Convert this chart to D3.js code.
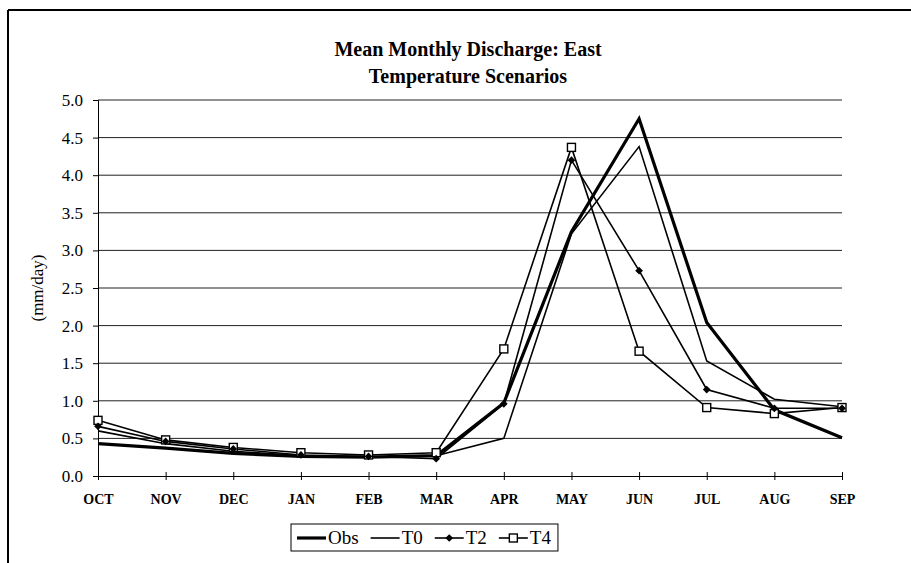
<!DOCTYPE html>
<html>
<head>
<meta charset="utf-8">
<script src="https://cdn.jsdelivr.net/npm/d3@7"></script>
<style>
  body { margin: 0; background: #fff; }
  text { font-family: "Liberation Serif", "Times New Roman", serif; fill: #000; }
</style>
</head>
<body>
<script>
// data
var months = ["OCT", "NOV", "DEC", "JAN", "FEB", "MAR", "APR", "MAY", "JUN", "JUL", "AUG", "SEP"];
var obs = [0.43, 0.37, 0.30, 0.26, 0.25, 0.27, 0.97, 3.25, 4.75, 2.04, 0.88, 0.51];
var t0  = [0.60, 0.43, 0.33, 0.27, 0.25, 0.27, 0.50, 3.22, 4.38, 1.53, 1.02, 0.92];
var t2  = [0.66, 0.46, 0.36, 0.28, 0.26, 0.23, 0.96, 4.20, 2.73, 1.15, 0.90, 0.90];
var t4  = [0.74, 0.48, 0.38, 0.31, 0.28, 0.31, 1.69, 4.37, 1.66, 0.91, 0.83, 0.91];
var yTicks = [0, 0.5, 1, 1.5, 2, 2.5, 3, 3.5, 4, 4.5, 5];
var seriesNames = ["Obs", "T0", "T2", "T4"];

var w = 911, h = 563;
var svg = d3.select("body").append("svg")
    .attr("width", w)
    .attr("height", h);

// outer frame (top + left only)
svg.append("line").attr("x1", 8).attr("x2", w).attr("y1", 10).attr("y2", 10)
    .attr("stroke", "#000").attr("stroke-width", 2);
svg.append("line").attr("x1", 8).attr("x2", 8).attr("y1", 10).attr("y2", h)
    .attr("stroke", "#000").attr("stroke-width", 2);

var x = d3.scalePoint().domain(months).range([98, 842]);
var y = d3.scaleLinear().domain([0, 5]).range([476, 100]);

// title
var title = svg.append("text")
    .attr("text-anchor", "middle")
    .style("font-size", "20px")
    .style("font-weight", "bold");
title.append("tspan").attr("x", 468).attr("y", 56).text("Mean Monthly Discharge: East");
title.append("tspan").attr("x", 468).attr("y", 83).text("Temperature Scenarios");

// gridlines
svg.append("g")
    .selectAll("line")
    .data(yTicks.filter(function (d) { return d > 0; }))
    .enter()
    .append("line")
    .attr("x1", 98).attr("x2", 842)
    .attr("y1", function (d) { return y(d); })
    .attr("y2", function (d) { return y(d); })
    .attr("stroke", "#222")
    .attr("stroke-width", 1);

// y axis
var yAxis = svg.append("g")
    .attr("transform", "translate(98,0)")
    .call(d3.axisLeft(y).tickValues(yTicks).tickFormat(d3.format(".1f")).tickSize(5).tickPadding(10));
yAxis.selectAll("text").style("font-size", "17px").style("font-family", "Liberation Serif, serif");
yAxis.selectAll("path, line").attr("stroke", "#000");

// x axis - ticks cross the line
var xAxis = svg.append("g")
    .attr("transform", "translate(0,476)")
    .call(d3.axisBottom(x).tickSizeInner(4).tickSizeOuter(0).tickPadding(14));
xAxis.selectAll(".tick line").attr("y1", -4).attr("y2", 4).attr("stroke", "#000");
xAxis.select(".domain").attr("stroke", "#000");
xAxis.selectAll("text")
    .style("font-size", "14px")
    .style("font-weight", "bold")
    .style("font-family", "Liberation Serif, serif");

// y label
svg.append("text")
    .attr("transform", "translate(43,288) rotate(-90)")
    .attr("text-anchor", "middle")
    .style("font-size", "17px")
    .text("(mm/day)");

var line = d3.line()
    .x(function (d, i) { return x(months[i]); })
    .y(function (d) { return y(d); });

var plot = svg.append("g");
plot.append("path").datum(t0).attr("d", line)
    .attr("fill", "none").attr("stroke", "#000").attr("stroke-width", 1.6);
plot.append("path").datum(t4).attr("d", line)
    .attr("fill", "none").attr("stroke", "#000").attr("stroke-width", 1.6);
plot.append("path").datum(t2).attr("d", line)
    .attr("fill", "none").attr("stroke", "#000").attr("stroke-width", 1.6);
plot.append("path").datum(obs).attr("d", line)
    .attr("fill", "none").attr("stroke", "#000").attr("stroke-width", 3.2);

var diamond = d3.symbol().type(d3.symbolSquare).size(30);

// T4 squares
plot.selectAll("rect.t4")
    .data(t4).enter()
    .append("rect")
    .attr("class", "t4")
    .attr("x", function (d, i) { return x(months[i]) - 4; })
    .attr("y", function (d) { return y(d) - 4; })
    .attr("width", 8).attr("height", 8)
    .attr("fill", "#fff").attr("stroke", "#000").attr("stroke-width", 1.4);

// T2 diamonds
plot.selectAll("path.t2")
    .data(t2).enter()
    .append("path")
    .attr("class", "t2")
    .attr("d", diamond)
    .attr("transform", function (d, i) { return "translate(" + x(months[i]) + "," + y(d) + ") rotate(45)"; })
    .attr("fill", "#000");

// legend
var legend = svg.append("g");
var lgY = 538;
var cx = 297;
seriesNames.forEach(function (name, i) {
    var g = legend.append("g");
    var sw = i === 0 ? 3.2 : 1.6;
    g.append("line").attr("x1", cx).attr("x2", cx + 29).attr("y1", lgY).attr("y2", lgY)
        .attr("stroke", "#000").attr("stroke-width", sw);
    if (name === "T2") {
        g.append("path").attr("d", diamond)
            .attr("transform", "translate(" + (cx + 14.5) + "," + lgY + ") rotate(45)").attr("fill", "#000");
    }
    if (name === "T4") {
        g.append("rect").attr("x", cx + 10.5).attr("y", lgY - 4).attr("width", 8).attr("height", 8)
            .attr("fill", "#fff").attr("stroke", "#000").attr("stroke-width", 1.4);
    }
    var t = g.append("text").attr("x", cx + 31).attr("y", lgY + 6)
        .style("font-size", "19px").text(name);
    cx = cx + 31 + t.node().getComputedTextLength() + 12;
});
legend.insert("rect", ":first-child")
    .attr("x", 291).attr("y", 524)
    .attr("width", cx - 12 + 7 - 291).attr("height", 27)
    .attr("fill", "#fff").attr("stroke", "#000").attr("stroke-width", 1);
</script>
</body>
</html>
